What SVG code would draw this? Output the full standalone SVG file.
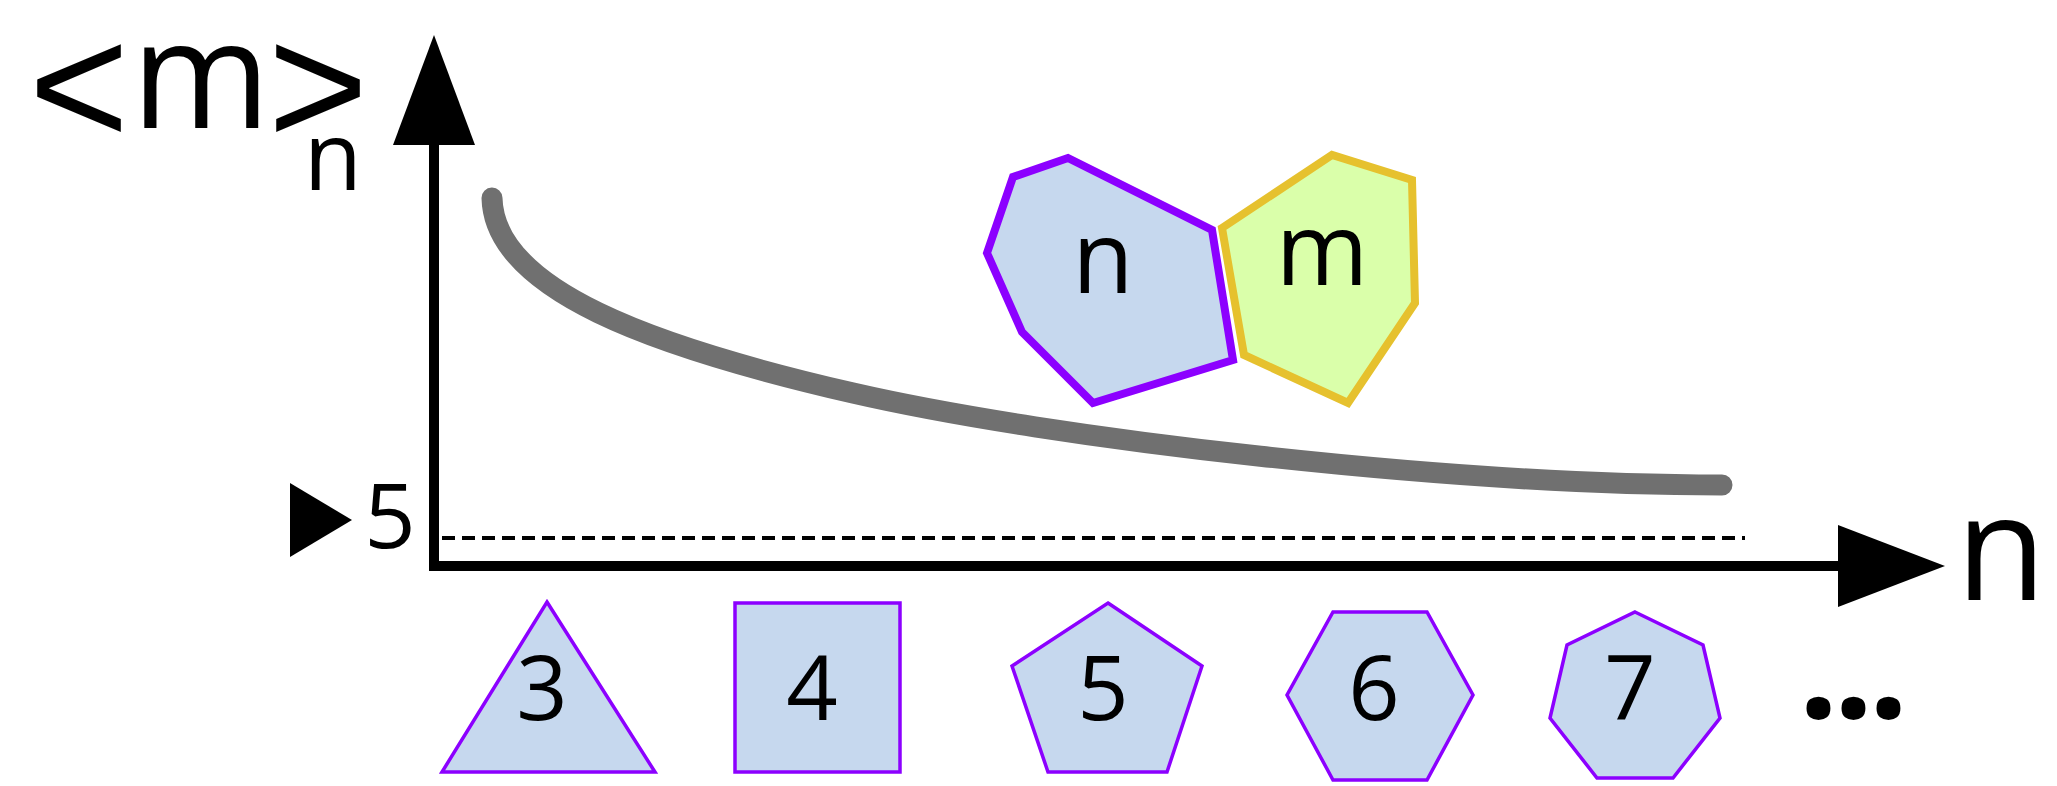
<svg xmlns="http://www.w3.org/2000/svg" width="2057" height="786" viewBox="0 0 2057 786">
<style>
.t{font-family:"Open Sans","Liberation Sans",sans-serif;fill:#000;text-anchor:middle}
.br{font-family:"Liberation Sans",Arial,sans-serif}
.shape{fill:#C6D8EE;stroke:#8C00FF;stroke-width:3.5;stroke-linejoin:miter}
.ax{stroke:#000;stroke-width:10;fill:none}
</style>
<rect width="2057" height="786" fill="#fff"/>
<g id="axes">
  <line class="ax" x1="434" y1="140" x2="434" y2="571"/>
  <polygon points="434,35 393,145 475,145" fill="#000"/>
  <line class="ax" x1="429" y1="566" x2="1842" y2="566"/>
  <polygon points="1945,566 1838,525 1838,607" fill="#000"/>
  <line x1="442" y1="538" x2="1745" y2="538" stroke="#000" stroke-width="4" stroke-dasharray="13 7"/>
  <polygon points="290,483 352,520 290,557" fill="#000"/>
  <text class="t" x="390" y="548" font-size="90">5</text>
  <text class="t" font-size="150"><tspan class="br" x="79" y="145" font-size="172">&lt;</tspan><tspan x="201" y="128">m</tspan><tspan class="br" x="318" y="145" font-size="172">&gt;</tspan></text>
  <text class="t" x="333" y="190" font-size="95">n</text>
  <text class="t" x="2001" y="600" font-size="147">n</text>
</g>
<g id="curve">
  <path d="M492,198 C494,290 653,347 853,393 C1053,439 1450,485 1722,485" fill="none" stroke="#707070" stroke-width="21" stroke-linecap="round"/>
</g>
<g id="node-m">
  <polygon points="1222,228 1332,155 1412,180 1415,303 1348,403 1244,355" fill="#DAFFAA" stroke="#E6C12E" stroke-width="8" stroke-linejoin="miter"/>
  <text class="t" x="1322" y="285" font-size="100">m</text>
</g>
<g id="node-n">
  <polygon points="1068,158 1013,177 987,253 1022,332 1093,403 1233,360 1212,230" fill="#C6D8EE" stroke="#8C00FF" stroke-width="8" stroke-linejoin="miter"/>
  <text class="t" x="1103" y="293" font-size="100">n</text>
</g>
<g id="poly-3">
  <polygon class="shape" points="547,602 655,772 442,772"/>
  <text class="t" x="542" y="720" font-size="90">3</text>
</g>
<g id="poly-4">
  <rect class="shape" x="735" y="603" width="165" height="169"/>
  <text class="t" x="812" y="720" font-size="90">4</text>
</g>
<g id="poly-5">
  <polygon class="shape" points="1108,603 1202,666 1167,772 1048,772 1012,666"/>
  <text class="t" x="1103" y="720" font-size="90">5</text>
</g>
<g id="poly-6">
  <polygon class="shape" points="1333,612 1427,612 1473,695 1427,780 1333,780 1287,695"/>
  <text class="t" x="1374" y="720" font-size="90">6</text>
</g>
<g id="poly-7">
  <polygon class="shape" points="1635,612 1703,645 1720,718 1673,778 1597,778 1550,718 1567,645"/>
  <text class="t" x="1630" y="720" font-size="90">7</text>
</g>
<g id="ellipsis">
  <text class="t" x="1851" y="718" font-size="140" font-weight="bold" letter-spacing="-5">...</text>
</g>
</svg>
